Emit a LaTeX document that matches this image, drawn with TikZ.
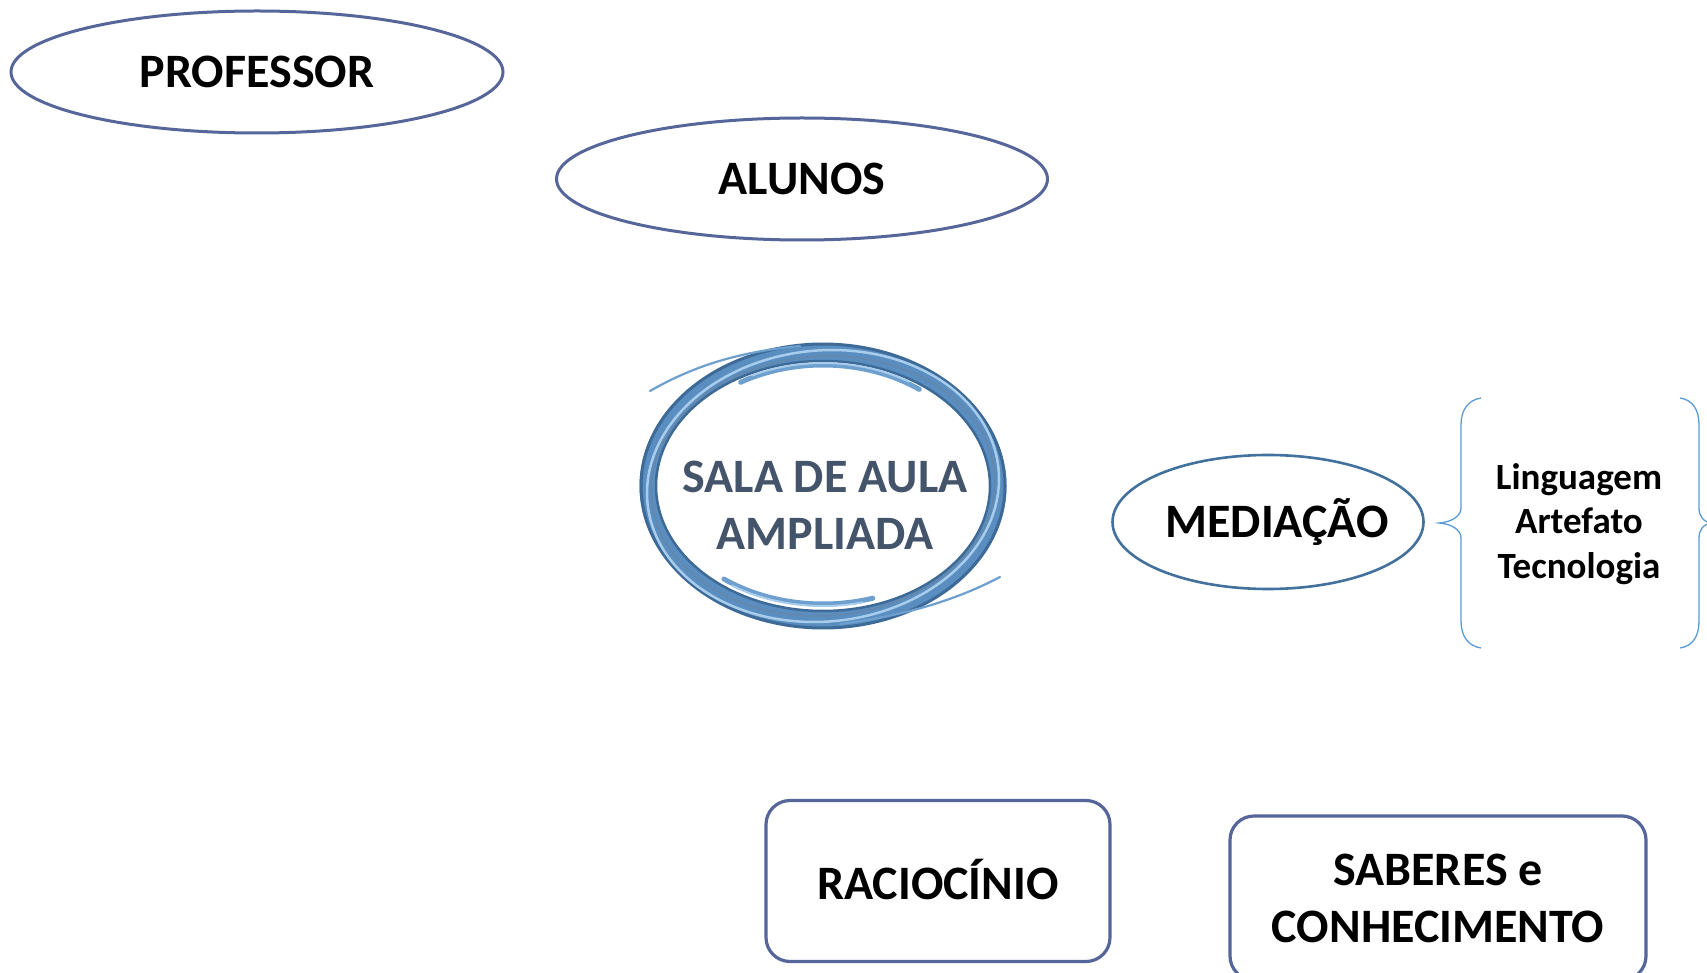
\documentclass[tikz,border=0pt]{standalone}
\usepackage{fontspec}
\setmainfont{Carlito}
\usetikzlibrary{shapes.geometric}
\definecolor{slate}{HTML}{56669A}
\definecolor{medblue}{HTML}{41719C}
\definecolor{bracec}{HTML}{5B9BD5}
\definecolor{salatext}{HTML}{44546A}
\definecolor{ringmid}{HTML}{5A8DC0}
\definecolor{ringdark}{HTML}{3D6A96}
\definecolor{ringlight}{HTML}{A8CDEC}
\definecolor{ringtail}{HTML}{6D9FCF}
\begin{document}
\begin{tikzpicture}[x=1pt,y=-1pt,
  bigfont/.style={font=\fontsize{48}{57}\selectfont\bfseries},
  oval/.style={ellipse, draw=slate, line width=3pt, inner sep=0pt, bigfont},
  rbox/.style={draw=slate, line width=3.2pt, rounded corners=24pt, inner sep=0pt, align=center, bigfont},
  bracepath/.style={draw=bracec, line width=1.3pt}]
\useasboundingbox (0,0) rectangle (1707,973);
\clip (0,0) rectangle (1707,973);
\fill[white] (0,0) rectangle (1707,973);

% ovals
\node[oval, minimum width=492pt, minimum height=122pt] (prof) at (257,72) {PROFESSOR};
\node[oval, minimum width=491pt, minimum height=122pt] (alunos) at (802,179) {ALUNOS};
\node[ellipse, draw=medblue, line width=2.6pt, minimum width=311pt, minimum height=134pt] (med) at (1268,522) {};
\node[bigfont, inner sep=0pt] (medt) at (1277,522) {MEDIAÇÃO};

% ring
\def\cx{823}\def\cy{486}
\draw[ringmid, line width=17pt] plot[domain=0:360, samples=120, smooth] ({\cx+175*cos(\x)},{\cy+134*sin(\x)});
\draw[ringdark, line width=3pt] plot[domain=0:360, samples=120, smooth] ({\cx+182*cos(\x)},{\cy+142*sin(\x)});
\draw[ringdark, line width=2.5pt] plot[domain=0:360, samples=120, smooth] ({\cx+167*cos(\x)},{\cy+125*sin(\x)});
\draw[ringlight, line width=2.5pt] plot[domain=0:360, samples=120, smooth] ({\cx+176*cos(\x+3)},{\cy+136*sin(\x)});
\draw[ringdark!80, line width=1.5pt] plot[domain=0:360, samples=120, smooth] ({\cx+172*cos(\x)},{\cy+130*sin(\x-2)});
% inner swooshes
\draw[ringtail, line width=5pt, line cap=round] plot[domain=-121:-53, samples=40, smooth] ({\cx+160*cos(\x)},{\cy+121*sin(\x)});
\draw[ringlight, line width=2pt, line cap=round] plot[domain=-116:-58, samples=40, smooth] ({\cx+162*cos(\x)},{\cy+123*sin(\x)});
\draw[ringtail, line width=5pt, line cap=round] plot[domain=72:128, samples=40, smooth] ({\cx+161*cos(\x)},{\cy+118*sin(\x)});
\draw[ringlight, line width=2pt, line cap=round] plot[domain=76:124, samples=40, smooth] ({\cx+163*cos(\x)},{\cy+120*sin(\x)});
% tails
\draw[ringtail, line width=2.2pt, line cap=round] (650,391) .. controls (690,368) and (735,352) .. (800,346);
\draw[ringtail, line width=2.2pt, line cap=round] (1000,577) .. controls (960,598) and (910,615) .. (840,624);

\node[bigfont, text=salatext, align=center] (sala) at (825,505) {SALA DE AULA\\AMPLIADA};

% braces
\draw[bracepath] (1481,398) .. controls (1468,400) and (1461,410) .. (1461,425)
  -- (1461,508) .. controls (1461,516) and (1452,522) .. (1439,523)
  .. controls (1452,524) and (1461,530) .. (1461,538)
  -- (1461,621) .. controls (1461,636) and (1468,646) .. (1481,648);
\draw[bracepath] (1680,398) .. controls (1693,400) and (1699,410) .. (1699,425)
  -- (1699,508) .. controls (1699,516) and (1703,522) .. (1712,523)
  .. controls (1703,524) and (1699,530) .. (1699,538)
  -- (1699,621) .. controls (1699,636) and (1693,646) .. (1680,648);
\node[font=\fontsize{37}{44.5}\selectfont\bfseries, align=center] (list) at (1579,524) {Linguagem\\Artefato\\Tecnologia};

% boxes
\node[rbox, minimum width=344pt, minimum height=161pt] (rac) at (938,881) {};
\node[bigfont, inner sep=0pt] (ract) at (938,880) {RACIOCÍNIO};
\node[rbox, minimum width=416pt, minimum height=164pt] (sab) at (1438,898) {SABERES e\\CONHECIMENTO};
\end{tikzpicture}
\end{document}
